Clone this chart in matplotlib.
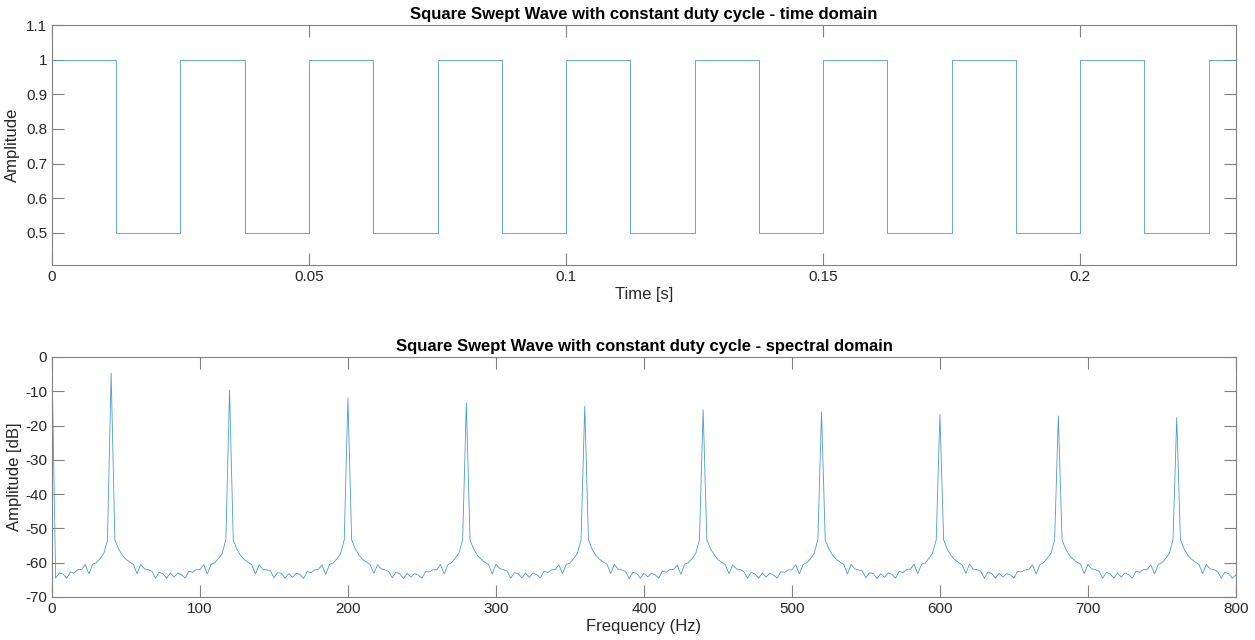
import numpy as np
import matplotlib
matplotlib.use("Agg")
import matplotlib.pyplot as plt

plt.rcParams['font.family'] = ['Liberation Sans', 'DejaVu Sans']
plt.rcParams['axes.unicode_minus'] = False

# square wave: edges every half period (40 Hz, 50 % duty), levels 1 / 0.5
t_edges = [0, 0.0125, 0.025, 0.0375, 0.05, 0.0625, 0.075, 0.0875, 0.1, 0.1125,
           0.125, 0.1375, 0.15, 0.1625, 0.175, 0.1875, 0.2, 0.2125, 0.225, 0.2302]
levels = [1, 0.5, 1, 0.5, 1, 0.5, 1, 0.5, 1, 0.5,
          1, 0.5, 1, 0.5, 1, 0.5, 1, 0.5, 1, 1]

# spectrum, 2.5 Hz bins, peaks at the odd harmonics 40, 120, ... 760 Hz
df = 2.5
peak_db = [-4.7, -9.6, -12.0, -13.4, -14.4, -15.4, -16.0, -16.7, -17.2, -17.7]
head_db = [-1.0, -64.5, -63.0, -63.3, -64.5, -62.7, -63.0, -62.0, -62.0, -60.5,
           -63.3, -60.4, -60.0, -58.8, -57.3, -53.5]
gap_db = [
    [-53.3, -56.0, -57.8, -59.0, -59.8, -60.5, -63.2, -60.5, -61.8, -62.0, -62.5,
     -64.5, -62.8, -63.2, -64.5, -63.0, -64.2, -63.0, -63.5, -64.5, -62.5, -62.8,
     -62.0, -62.0, -60.6, -63.3, -60.5, -60.0, -58.8, -57.3, -53.3],
    [-53.4, -56.1, -57.9, -59.1, -59.9, -60.6, -63.3, -60.6, -61.9, -62.1, -62.3,
     -64.4, -62.9, -63.1, -64.5, -63.2, -64.3, -63.1, -63.4, -64.6, -62.6, -62.9,
     -62.1, -61.9, -60.7, -63.4, -60.5, -60.1, -58.9, -57.4, -53.3],
    [-53.3, -56.0, -57.8, -59.1, -59.8, -60.6, -63.1, -60.6, -61.8, -62.1, -62.6,
     -64.4, -62.7, -63.3, -64.6, -63.1, -64.2, -63.2, -63.6, -64.5, -62.6, -62.7,
     -62.0, -62.1, -60.5, -63.3, -60.6, -60.0, -58.7, -57.2, -53.3],
    [-53.4, -56.0, -57.9, -59.0, -59.9, -60.5, -63.3, -60.4, -61.7, -62.0, -62.4,
     -64.5, -62.9, -63.2, -64.4, -63.0, -64.3, -63.0, -63.5, -64.4, -62.5, -62.9,
     -62.1, -62.0, -60.6, -63.2, -60.5, -60.1, -58.8, -57.3, -53.4],
    [-53.3, -56.1, -57.8, -59.0, -59.8, -60.4, -63.2, -60.5, -61.9, -62.1, -62.5,
     -64.6, -62.8, -63.1, -64.5, -63.1, -64.1, -63.1, -63.5, -64.5, -62.4, -62.8,
     -62.0, -62.0, -60.7, -63.4, -60.4, -60.0, -58.8, -57.3, -53.3],
    [-53.3, -56.0, -57.7, -59.1, -59.9, -60.6, -63.2, -60.6, -61.8, -62.0, -62.6,
     -64.5, -62.8, -63.3, -64.5, -63.0, -64.2, -63.1, -63.6, -64.5, -62.6, -62.8,
     -62.1, -62.1, -60.6, -63.3, -60.6, -60.0, -58.9, -57.3, -53.3],
    [-53.4, -56.0, -57.8, -59.0, -59.8, -60.5, -63.3, -60.5, -61.8, -62.1, -62.4,
     -64.4, -62.9, -63.2, -64.6, -63.2, -64.3, -63.0, -63.4, -64.5, -62.5, -62.9,
     -62.0, -61.9, -60.5, -63.2, -60.5, -60.1, -58.8, -57.2, -53.3],
    [-53.3, -56.1, -57.9, -59.1, -59.9, -60.6, -63.1, -60.4, -61.9, -62.0, -62.5,
     -64.5, -62.7, -63.2, -64.5, -63.1, -64.2, -63.2, -63.5, -64.4, -62.5, -62.7,
     -62.1, -62.0, -60.6, -63.3, -60.6, -60.0, -58.7, -57.3, -53.4],
    [-53.3, -56.0, -57.8, -59.0, -59.8, -60.5, -63.2, -60.5, -61.8, -62.0, -62.5,
     -64.5, -62.8, -63.2, -64.5, -63.0, -64.2, -63.0, -63.5, -64.5, -62.5, -62.8,
     -62.0, -62.0, -60.6, -63.3, -60.5, -60.0, -58.8, -57.3, -53.3],
]
tail_db = [-53.3, -56.0, -57.8, -59.0, -59.8, -60.5, -63.2, -60.5, -61.8, -62.0,
           -62.5, -64.5, -62.8, -63.2, -64.5, -63.6]

spec_db = list(head_db)
for k, p in enumerate(peak_db):
    spec_db.append(p)
    spec_db += gap_db[k] if k < len(gap_db) else tail_db
spec_db = np.array(spec_db)
freq = np.arange(len(spec_db)) * df

line_col = '#4b9ad6'
axis_col = '#808080'
text_col = '#262626'


def matlab_axes(ax):
    for s in ax.spines.values():
        s.set_color(axis_col)
        s.set_linewidth(0.8)
    ax.tick_params(direction='in', length=8.5, width=0.8, color=axis_col,
                   labelcolor=text_col, labelsize=11, top=True, right=True)


fig = plt.figure(figsize=(12.55, 6.4), dpi=100)

# time domain
ax1 = fig.add_axes([0.0414, 0.5859, 0.9434, 0.375])
ax1.step(t_edges, levels, where='post', color=line_col, lw=0.6)
ax1.set_xlim(0, 0.2303)
ax1.set_ylim(0.407, 1.1)
ax1.set_xticks([0, 0.05, 0.1, 0.15, 0.2])
ax1.set_xticklabels(['0', '0.05', '0.1', '0.15', '0.2'])
ax1.set_yticks([0.5, 0.6, 0.7, 0.8, 0.9, 1.0, 1.1])
ax1.set_yticklabels(['0.5', '0.6', '0.7', '0.8', '0.9', '1', '1.1'])
ax1.set_xlabel('Time [s]', fontsize=12, color=text_col, labelpad=2)
ax1.set_ylabel('Amplitude', fontsize=12, color=text_col, labelpad=4)
ax1.set_title('Square Swept Wave with constant duty cycle - time domain',
              fontsize=12, fontweight='bold', pad=4)
matlab_axes(ax1)

# spectral domain
ax2 = fig.add_axes([0.0414, 0.0672, 0.9434, 0.375])
ax2.plot(freq, spec_db, color=line_col, lw=0.6)
ax2.set_xlim(0, 800)
ax2.set_ylim(-70, 0)
ax2.set_xticks(np.arange(0, 801, 100))
ax2.set_yticks(np.arange(-70, 1, 10))
ax2.set_xlabel('Frequency (Hz)', fontsize=12, color=text_col, labelpad=2)
ax2.set_ylabel('Amplitude [dB]', fontsize=12, color=text_col, labelpad=2)
ax2.set_title('Square Swept Wave with constant duty cycle - spectral domain',
              fontsize=12, fontweight='bold', pad=4)
matlab_axes(ax2)

fig.savefig('out.png', dpi=100)
